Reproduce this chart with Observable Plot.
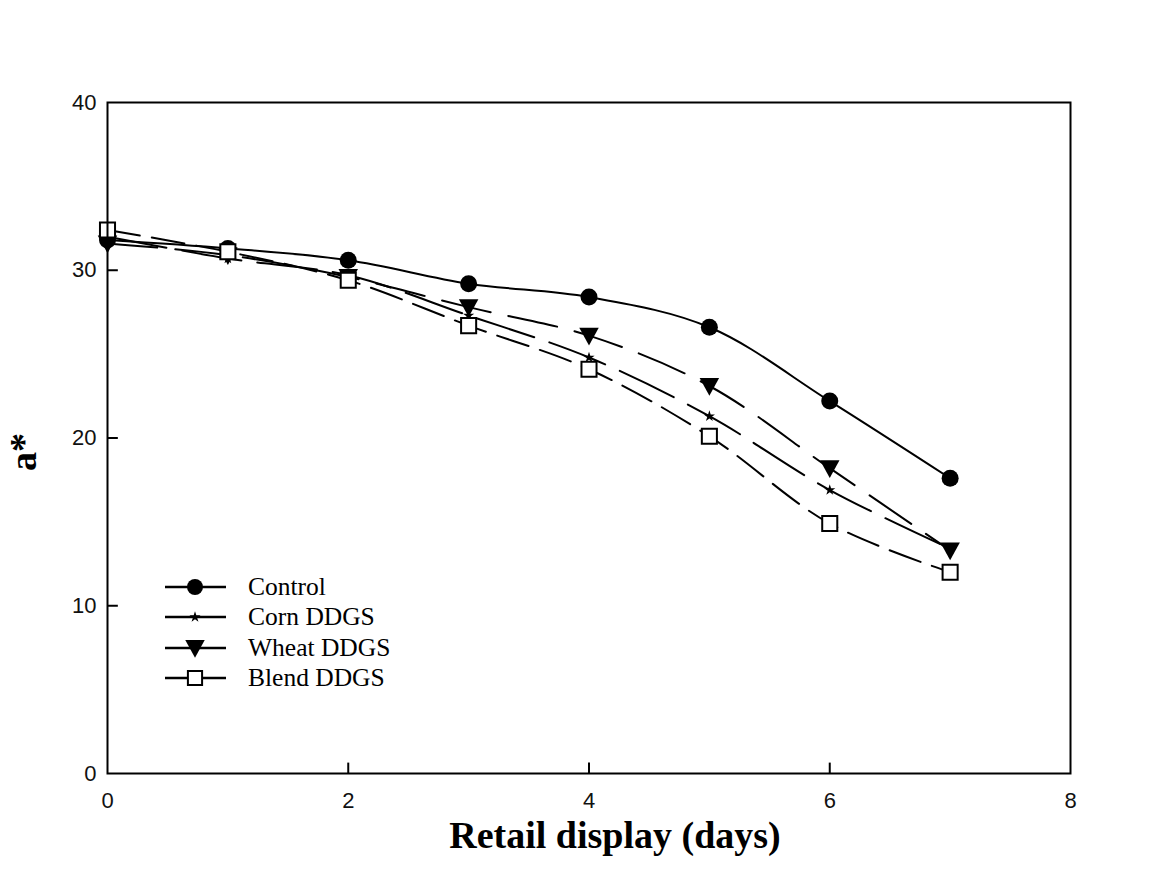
<!DOCTYPE html>
<html>
<head>
<meta charset="utf-8">
<script src="https://cdn.jsdelivr.net/npm/d3@7"></script>
<script src="https://cdn.jsdelivr.net/npm/@observablehq/plot@0.6"></script>
<style>
  html, body { margin: 0; padding: 0; background: #fff; }
  #wrap { position: relative; width: 1149px; height: 871px; overflow: hidden; }
  #chart { position: absolute; left: 0; top: 0; }
  #chart svg text { font-size: 22px !important; font-family: "Liberation Sans", Arial, sans-serif !important; fill: #111; }
  .xlabel { position: absolute; left: 615px; top: 816px; transform: translateX(-50%); line-height: 1;
    font-family: "Liberation Serif", "Times New Roman", serif; font-weight: bold; font-size: 38px; color: #000; white-space: nowrap; }
  .ylabel { position: absolute; left: 23px; top: 452px; transform: translate(-50%, -50%) rotate(-90deg); line-height: 1;
    font-family: "Liberation Serif", "Times New Roman", serif; font-weight: bold; font-size: 38px; color: #000; white-space: nowrap; }
  #legend { position: absolute; left: 159px; top: 572px; font-family: "Liberation Serif", "Times New Roman", serif; font-size: 25.5px; color: #000; }
  #legend .row { display: flex; align-items: center; height: 30.3px; }
  #legend svg { margin-right: 19px; }
</style>
</head>
<body>
<div id="wrap">
  <div id="chart"></div>
  <div class="ylabel">a*</div>
  <div class="xlabel">Retail display (days)</div>
  <div id="legend"></div>
</div>
<script>
// ---- data ----
const days = [0, 1, 2, 3, 4, 5, 6, 7];
const control = [31.8, 31.3, 30.6, 29.2, 28.4, 26.6, 22.2, 17.6];
const corn    = [32.0, 30.7, 29.7, 27.3, 24.8, 21.3, 16.9, 13.4];
const wheat   = [31.6, 30.9, 29.6, 27.8, 26.1, 23.1, 18.2, 13.3];
const blend   = [32.4, 31.1, 29.4, 26.7, 24.1, 20.1, 14.9, 12.0];
const seriesNames = ["Control", "Corn DDGS", "Wheat DDGS", "Blend DDGS"];
const xTicks = [0, 2, 4, 6, 8];
const yTicks = [0, 10, 20, 30, 40];
const xInnerTicks = [2, 4, 6];
const yInnerTicks = [10, 20, 30];

// ---- styles ----
const dashes = {"Control": null, "Corn DDGS": "60,16", "Wheat DDGS": "50,18", "Blend DDGS": "33,12"};
const triangleDown = {
  draw(context, size) {
    const s = Math.sqrt(size);
    context.moveTo(-s * 0.55, -s * 0.45);
    context.lineTo(s * 0.55, -s * 0.45);
    context.lineTo(0, s * 0.55);
    context.closePath();
  }
};

const valuesBy = {"Control": control, "Corn DDGS": corn, "Wheat DDGS": wheat, "Blend DDGS": blend};
const rows = [];
for (const name of seriesNames) {
  valuesBy[name].forEach((v, i) => rows.push({series: name, day: days[i], value: v}));
}
const of = (name) => rows.filter(d => d.series === name);

const W = 1149, H = 871;
const mL = 107, mR = 79, mT = 102, mB = 98;

const lineMarks = seriesNames.map(name => Plot.line(of(name), {
  x: "day", y: "value", curve: "catmull-rom", stroke: "#000", strokeWidth: 2,
  strokeDasharray: dashes[name]
}));

const chart = Plot.plot({
  width: W, height: H,
  marginLeft: mL, marginRight: mR, marginTop: mT, marginBottom: mB,
  style: {background: "#fff", fontFamily: "'Liberation Sans', Arial, sans-serif", fontSize: "22px", color: "#111"},
  x: {domain: [0, 8]},
  y: {domain: [0, 40]},
  marks: [
    Plot.axisX({ticks: xTicks, tickSize: 0, tickPadding: 19, label: null}),
    Plot.axisY({ticks: yTicks, tickSize: 0, tickPadding: 11, label: null}),
    Plot.ruleX(xInnerTicks, {x: d => d, y1: 0, y2: 0.62, stroke: "#000", strokeWidth: 2}),
    Plot.ruleY(yInnerTicks, {y: d => d, x1: 0, x2: 0.09, stroke: "#000", strokeWidth: 2}),
    ...lineMarks,
    Plot.dot(of("Control"), {x: "day", y: "value", symbol: "circle", r: 8.5, fill: "#000", stroke: "none"}),
    Plot.dot(of("Wheat DDGS"), {x: "day", y: "value", symbol: triangleDown, r: 10, fill: "#000", stroke: "none"}),
    Plot.dot(of("Corn DDGS"), {x: "day", y: "value", symbol: "star", r: 3.5, fill: "#000", stroke: "none"}),
    Plot.dot(of("Blend DDGS"), {x: "day", y: "value", symbol: "square", r: 8.5, fill: "#fff", stroke: "#000", strokeWidth: 2}),
    Plot.frame({stroke: "#000", strokeWidth: 2})
  ]
});
document.getElementById("chart").appendChild(chart);

// ---- legend ----
const legend = d3.select("#legend");
const symFor = {
  "Control": d3.symbol(d3.symbolCircle, Math.PI * 8 * 8),
  "Corn DDGS": d3.symbol(d3.symbolStar, Math.PI * 3.5 * 3.5),
  "Wheat DDGS": d3.symbol(triangleDown, Math.PI * 10 * 10),
  "Blend DDGS": d3.symbol(d3.symbolSquare, Math.PI * 8 * 8)
};
for (const name of seriesNames) {
  const row = legend.append("div").attr("class", "row");
  const svg = row.append("svg").attr("width", 70).attr("height", 24);
  svg.append("line").attr("x1", 6).attr("x2", 67).attr("y1", 12).attr("y2", 12)
    .attr("stroke", "#000").attr("stroke-width", 2.5);
  svg.append("path").attr("d", symFor[name]()).attr("transform", "translate(36,12)")
    .attr("fill", name === "Blend DDGS" ? "#fff" : "#000")
    .attr("stroke", name === "Blend DDGS" ? "#000" : "none").attr("stroke-width", 2);
  row.append("span").text(name);
}
</script>
</body>
</html>
